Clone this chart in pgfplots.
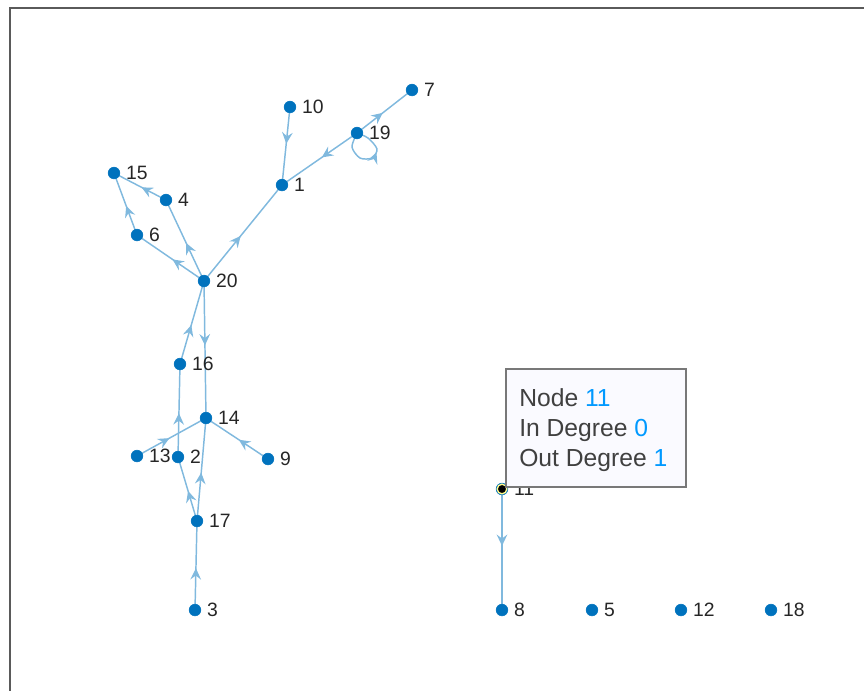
\documentclass[border=0pt]{standalone}
\usepackage{pgfplots}
\pgfplotsset{compat=1.18}
\usepackage{fontspec}
\setmainfont{Liberation Sans}
\usetikzlibrary{arrows.meta,decorations.markings}
\definecolor{nodeblue}{RGB}{0,114,189}
\definecolor{edgeblue}{RGB}{128,185,222}
\definecolor{labelgray}{RGB}{38,38,38}
\definecolor{tipblue}{RGB}{0,153,255}
\definecolor{tiptext}{RGB}{64,64,64}
\definecolor{framegray}{RGB}{90,90,90}
\definecolor{tipbg}{RGB}{250,250,255}
\definecolor{tipborder}{RGB}{120,120,120}
\pgfplotsset{
  edge/.style={edgeblue, line width=1.1pt, forget plot, no markers,
    postaction={decorate},
    decoration={markings, mark=at position 0.47 with {\arrow{Stealth[length=8.5pt,width=8pt,inset=3pt]}}}},
}
\begin{document}
\begin{tikzpicture}
\path[use as bounding box] (0,0) rectangle (648pt,-517.5pt);
\begin{axis}[
  at={(7.5pt,-6pt)}, anchor=north west,
  scale only axis, width=652.5pt, height=519pt,
  xmin=10, xmax=880, ymin=8, ymax=700, y dir=reverse,
  xtick=\empty, ytick=\empty,
  axis line style={framegray, line width=1.3pt},
  clip=false,
]
% edges
\addplot[edge] coordinates {(290,107) (282,185)};   % 10 -> 1
\addplot[edge] coordinates {(357,133) (412,90)};    % 19 -> 7
\addplot[edge] coordinates {(357,133) (282,185)};   % 19 -> 1
\addplot[edge] coordinates {(204,281) (282,185)};   % 20 -> 1
\addplot[edge] coordinates {(166,200) (114,173)};   % 4 -> 15
\addplot[edge] coordinates {(137,235) (114,173)};   % 6 -> 15
\addplot[edge] coordinates {(204,281) (137,235)};   % 20 -> 6
\addplot[edge] coordinates {(204,281) (166,200)};   % 20 -> 4
\addplot[edge] coordinates {(180,364) (204,281)};   % 16 -> 20
\addplot[edge] coordinates {(204,281) (206,418)};   % 20 -> 14
\addplot[edge] coordinates {(178,457) (180,364)};   % 2 -> 16
\addplot[edge] coordinates {(137,456) (206,418)};   % 13 -> 14
\addplot[edge] coordinates {(268,459) (206,418)};   % 9 -> 14
\addplot[edge] coordinates {(197,521) (206,418)};   % 17 -> 14
\addplot[edge] coordinates {(197,521) (178,457)};   % 17 -> 2
\addplot[edge] coordinates {(195,610) (197,521)};   % 3 -> 17
\addplot[edge] coordinates {(502,489) (502,610)};   % 11 -> 8
% self loop 19 -> 19
\addplot[edgeblue, line width=1.1pt, forget plot, no markers, smooth,
  postaction={decorate},
  decoration={markings, mark=at position 0.62 with {\arrow{Stealth[length=8.5pt,width=8pt,inset=3pt]}}}]
  coordinates {(357,133) (352,147) (360,158) (372,158) (377,149) (368,138) (357,133)};
% nodes
\addplot[only marks, mark=*, mark size=4.4pt,
  mark options={draw=nodeblue, fill=nodeblue},
  point meta=explicit symbolic, nodes near coords,
  every node near coord/.append style={anchor=west, xshift=8.8pt, inner sep=0pt,
    font=\fontsize{14.5}{16}\selectfont, text=labelgray}]
  coordinates {
  (282,185) [1]
  (178,457) [2]
  (195,610) [3]
  (166,200) [4]
  (592,610) [5]
  (137,235) [6]
  (412,90)  [7]
  (502,610) [8]
  (268,459) [9]
  (290,107) [10]
  (502,489) [11]
  (681,610) [12]
  (137,456) [13]
  (206,418) [14]
  (114,173) [15]
  (180,364) [16]
  (197,521) [17]
  (771,610) [18]
  (357,133) [19]
  (204,281) [20]
  };
% datatip marker on node 11
\addplot[only marks, mark=*, mark size=3.6pt,
  mark options={fill=black, draw=yellow!45!white, line width=1pt}]
  coordinates {(502,489)};
\coordinate (tipA) at (axis cs:506,369);
\coordinate (tipB) at (axis cs:686,487);
\coordinate (t1) at (axis cs:519,406);
\coordinate (t2) at (axis cs:519,436.5);
\coordinate (t3) at (axis cs:519,466.5);
\end{axis}
% datatip box (drawn on top)
\draw[draw=tipborder, fill=tipbg, line width=1.1pt] (tipA) rectangle (tipB);
\node[anchor=base west, inner sep=0pt, font=\fontsize{18.5}{22}\selectfont, text=tiptext]
  at (t1) {Node \textcolor{tipblue}{11}};
\node[anchor=base west, inner sep=0pt, font=\fontsize{18.5}{22}\selectfont, text=tiptext]
  at (t2) {In Degree \textcolor{tipblue}{0}};
\node[anchor=base west, inner sep=0pt, font=\fontsize{18.5}{22}\selectfont, text=tiptext]
  at (t3) {Out Degree \textcolor{tipblue}{1}};
\end{tikzpicture}
\end{document}
